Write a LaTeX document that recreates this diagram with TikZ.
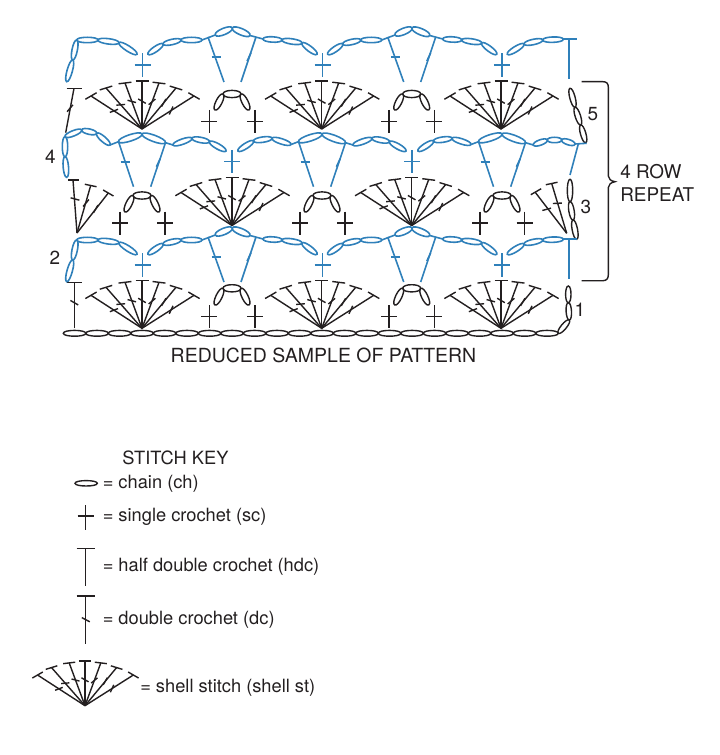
\documentclass[tikz,border=0pt]{standalone}
\usepackage{fontspec}
\setmainfont{TeX Gyre Heros}
\definecolor{stitchblue}{HTML}{2F80BA}
\definecolor{stitchblack}{HTML}{231F20}
\tikzset{
  blackst/.style={draw=stitchblack,line width=1.05pt,line cap=butt},
  bluest/.style={draw=stitchblue,line width=1.2pt,line cap=butt},
  lbl/.style={inner sep=0pt,text=stitchblack,font=\fontsize{14.2}{16}\selectfont},
  lblleft/.style={lbl,anchor=west},
  keylbl/.style={lblleft,font=\fontsize{13.7}{16}\selectfont},
}
% ellipse stitch between two points
\newcommand{\chn}[5]{%
  \pgfmathsetmacro\cdx{#3-(#1)}\pgfmathsetmacro\cdy{#4-(#2)}%
  \pgfmathsetmacro\cL{veclen(\cdx,\cdy)}%
  \pgfmathsetmacro\cnx{-\cdy/\cL*#5*1.333}\pgfmathsetmacro\cny{\cdx/\cL*#5*1.333}%
  \draw (#1,#2) .. controls (#1+\cnx,#2+\cny) and (#3+\cnx,#4+\cny) .. (#3,#4)
        .. controls (#3-\cnx,#4-\cny) and (#1-\cnx,#2-\cny) .. (#1,#2) -- cycle;
}
% run of chains through a list of x/y points
\newcommand{\chainrun}[2][2.7]{%
  \foreach \px/\py [count=\pi, remember=\px as \qx (initially 0), remember=\py as \qy (initially 0)] in {#2}{%
    \ifnum\pi>1 \chn{\qx}{\qy}{\px}{\py}{#1}\fi
  }%
}
% short stroke centred at x,y, screen angle, half length
\newcommand{\strokeat}[4]{%
  \pgfmathsetmacro\sx{#4*cos(#3)}\pgfmathsetmacro\sy{#4*sin(#3)}%
  \draw (#1-\sx,#2+\sy) -- (#1+\sx,#2-\sy);
}
% single crochet
\newcommand{\scst}[5][8]{% x, ytop, ycross, ybottom
  \draw (#2,#3) -- (#2,#5);
  \draw (#2-#1,#4) -- (#2+#1,#4);
}
% shell: cx, cy, scale
\newcommand{\shellst}[3]{%
  \foreach \ex/\ey/\ba/\ta/\fr in {-51/-33/30/21/.55,-36/-41/17/5/.59,-17/-46/7/-15/.6,0/-48/0/-30/.58,17/-46/-7/40/.59,34/-41/-17/60/.64,52/-33/-30/65/.56}{%
    \pgfmathsetmacro\tipx{#1+#3*\ex}\pgfmathsetmacro\tipy{#2+#3*\ey}%
    \pgfmathsetmacro\midx{#1+#3*\ex*\fr}\pgfmathsetmacro\midy{#2+#3*\ey*\fr}%
    \draw (#1,#2) -- (\tipx,\tipy);
    \strokeat{\tipx}{\tipy}{\ba}{6.5*#3}
    \strokeat{\midx}{\midy}{\ta}{4.4*#3}
  }%
}
% crown of three chains with legs: cx, y mid, y loop bottom
\newcommand{\crownst}[3]{%
  \chn{#1-9}{#2}{#1+9}{#2}{3.6}
  \chn{#1-17}{#3}{#1-9}{#2}{3.1}
  \chn{#1+9}{#2}{#1+17}{#3}{3.1}
}
% two-legged arch of row 5 and row 2: cx, y shift
\newcommand{\archA}[2]{%
  \chainrun{#1-84.3/54.3+#2,#1-69.3/44+#2,#1-51.3/40+#2,#1-30.3/40+#2}
  \draw (#1-30.3,40+#2) -- (#1-17,35+#2);
  \chainrun[3.2]{#1-17/35+#2,#1/28+#2,#1+17.7/35.5+#2}
  \draw (#1+17.7,35.5+#2) -- (#1+30.7,39+#2);
  \chainrun{#1+30.7/39+#2,#1+49.7/40+#2,#1+69.7/43+#2,#1+84.7/54.3+#2}
  \draw (#1-24.3,37+#2) -- (#1-8.3,82+#2);
  \draw (#1+23.7,37+#2) -- (#1+8.7,82+#2);
  \strokeat{#1-16.3}{57+#2}{0}{4.5}
  \strokeat{#1+16.7}{57+#2}{65}{4.5}
}
% arch of row 4: cx
\newcommand{\archB}[1]{%
  \chainrun[3.2]{#1-23.5/141.7,#1/134,#1+23.5/142.7}
  \draw (#1-23.5,141.7) -- (#1-8.5,186.7);
  \draw (#1+23.5,142.7) -- (#1+8.7,186.7);
  \strokeat{#1-17}{162.3}{0}{4.5}
  \strokeat{#1+16.3}{162.7}{65}{4.5}
}
\newcommand{\archBright}[1]{%
  \draw (#1+23.5,142.7) -- (#1+31,145);
  \chainrun{#1+31/145,#1+50/138.3,#1+67.5/141.7,#1+84/151}
}
\newcommand{\archBleft}[1]{%
  \draw (#1-31,144.5) -- (#1-23.5,141.7);
  \chainrun{#1-84/151,#1-68.5/141,#1-50/138.3,#1-31/144.5}
}
\begin{document}
\begin{tikzpicture}[x=0.75pt,y=-0.75pt]
\useasboundingbox (0,0) rectangle (719,755);

% ---------- black stitches ----------
\begin{scope}[blackst]
  % base chain
  \chainrun[2.9]{63.3/333.3,85.8/333.3,108.3/333.3,130.8/333.3,153.3/333.3,175.8/333.3,198.3/333.3,220.8/333.3,243.3/333.3,265.8/333.3,288.3/333.3,310.8/333.3,333.3/333.3,355.8/333.3,378.3/333.3,400.8/333.3,423.3/333.3,445.8/333.3,468.3/333.3,490.8/333.3,513.3/333.3,535.8/333.3,558.3/333.3}
  \chainrun{558.3/333.3,569.3/320,568.3/302.7,568.3/286}
  % side chains
  \chainrun{570/88.3,575/107.3,580.7/125,585.7/142.7}
  \chainrun{570/179.3,570/201.7,573/220,576.7/239.3}
  % shells
  \foreach \cx in {142,321.7,501}{\shellst{\cx}{129}{1}\shellst{\cx}{328.3}{1}}
  \foreach \cx in {232,411.7}{\shellst{\cx}{225.5}{1}}
  % single crochets
  \foreach \cx in {209.3,255,389,434.3}{\scst{\cx}{110}{121.7}{133.3}\scst{\cx}{305}{316.7}{328.3}}
  \foreach \cx in {120,165,300,345,480,524.5}{\scst{\cx}{211.7}{223}{235}}
  % crowns
  \foreach \cx in {232,411.7}{\crownst{\cx}{94}{110}\crownst{\cx}{288.3}{305}}
  \foreach \cx in {142,322,502}{\crownst{\cx}{195.5}{212}}
  % left edge stitches
  \draw (65.7,132.7) -- (74,88.3);
  \strokeat{74}{88.3}{0}{7.5}
  \strokeat{70}{108.3}{50}{4.5}
  \draw (74.3,328.3) -- (74.3,282.7);
  \strokeat{74.3}{282.7}{0}{7.5}
  \strokeat{74.3}{302.7}{-30}{4.5}
  % partial shells of row 3
  \draw (77,233) -- (73,180);
  \strokeat{73.5}{180}{0}{5.5}
  \strokeat{75}{199}{-15}{4.5}
  \draw (77,233) -- (90.7,185.5);
  \strokeat{90.7}{185.5}{-12}{6}
  \strokeat{86}{203}{50}{4.5}
  \draw (77,233) -- (108.3,193);
  \strokeat{108.3}{193}{-30}{6}
  \strokeat{95.7}{209}{60}{4.5}
  \draw (566.7,233.3) -- (535,192);
  \strokeat{536}{191.7}{30}{6}
  \strokeat{546.7}{209.3}{15}{4.5}
  \draw (566.7,233.3) -- (551.7,183.5);
  \strokeat{551.7}{183.5}{12}{6}
  \strokeat{557.3}{203.3}{3}{4.5}
  % brace
  \draw (581.7,81.7) -- (603,81.7) .. controls (606.5,81.7) and (608.3,83.5) .. (608.3,87)
        -- (608.3,176) .. controls (608.3,179) and (611,181) .. (615,181.7)
        .. controls (611,182.5) and (608.3,184.5) .. (608.3,187.5)
        -- (608.3,275) .. controls (608.3,278.5) and (606.5,280.7) .. (603,280.7) -- (581.7,280.7);
\end{scope}

% ---------- blue stitches ----------
\begin{scope}[bluest]
  \foreach \sh in {0,200}{
    \archA{232.3}{\sh}
    \archA{412}{\sh}
    \chainrun{66.7/81.7+\sh,72.7/60+\sh,76.7/40+\sh,98/40+\sh,119/42.7+\sh,137/54.3+\sh}
    \chainrun{507.3/54.3+\sh,524/44+\sh,542.7/40+\sh,563.3/39.3+\sh}
    \draw (563.3,39.3+\sh) -- (576.7,39.3+\sh);
    \draw (568.7,39.3+\sh) -- (568.7,79.3+\sh);
    \foreach \cx in {142.5,322.5,501.8}{\scst{\cx}{53.3+\sh}{65+\sh}{76.7+\sh}}
  }
  \foreach \cx in {142,322,502}{\archB{\cx}}
  \archBright{142}\archBright{322}
  \archBleft{322}\archBleft{502}
  \foreach \cx in {232,412}{\scst{\cx}{150}{161.7}{173.3}}
  % row 4 edges
  \chainrun{66.7/177.3,65/156.7,65/136.7,81.7/130,96.7/133.3,110/145}
  \draw (110,145) -- (118.5,141.7);
  \draw (525.5,142.7) -- (533.3,145);
  \chainrun{533.3/145,547.3/140,561.7/140,575/144.3}
  \draw (575,144) -- (586.7,143.3);
  \draw (578.3,144) -- (570,175);
\end{scope}

% ---------- labels ----------
\node[lbl] (n4) at (50.5,157) {4};
\node[lbl] (n2) at (55,258) {2};
\node[lbl] (n5) at (593,114) {5};
\node[lbl] (n3) at (586,207) {3};
\node[lbl] (n1) at (580,310) {1};
\node[lblleft] (rowa) at (620,172) {4 ROW};
\node[lblleft] (rowb) at (620,195) {REPEAT};
\node[lbl,font=\fontsize{14.6}{16}\selectfont] (cap) at (323.5,355) {REDUCED SAMPLE OF PATTERN};
\node[keylbl,anchor=center] (keyt) at (175.5,458) {STITCH KEY};
\node[keylbl] (k1) at (102.5,483.5) {= chain (ch)};
\node[keylbl] (k2) at (102.5,516.5) {= single crochet (sc)};
\node[keylbl] (k3) at (102.5,566.5) {= half double crochet (hdc)};
\node[keylbl] (k4) at (102.5,620) {= double crochet (dc)};
\node[keylbl] (k5) at (140,688) {= shell stitch (shell st)};

% ---------- key symbols ----------
\begin{scope}[blackst]
  \chn{75}{483.3}{97.3}{483.3}{2.7}
  \scst{85.7}{505}{516}{530}
  \draw (85.7,548.3) -- (85.7,585.7);
  \strokeat{85.7}{548.3}{0}{9}
  \draw (85.7,596) -- (85.7,644);
  \strokeat{85.7}{596}{0}{9}
  \strokeat{85.8}{619.7}{-28}{4.5}
  \shellst{85}{705.7}{0.93}
\end{scope}
\end{tikzpicture}
\end{document}
